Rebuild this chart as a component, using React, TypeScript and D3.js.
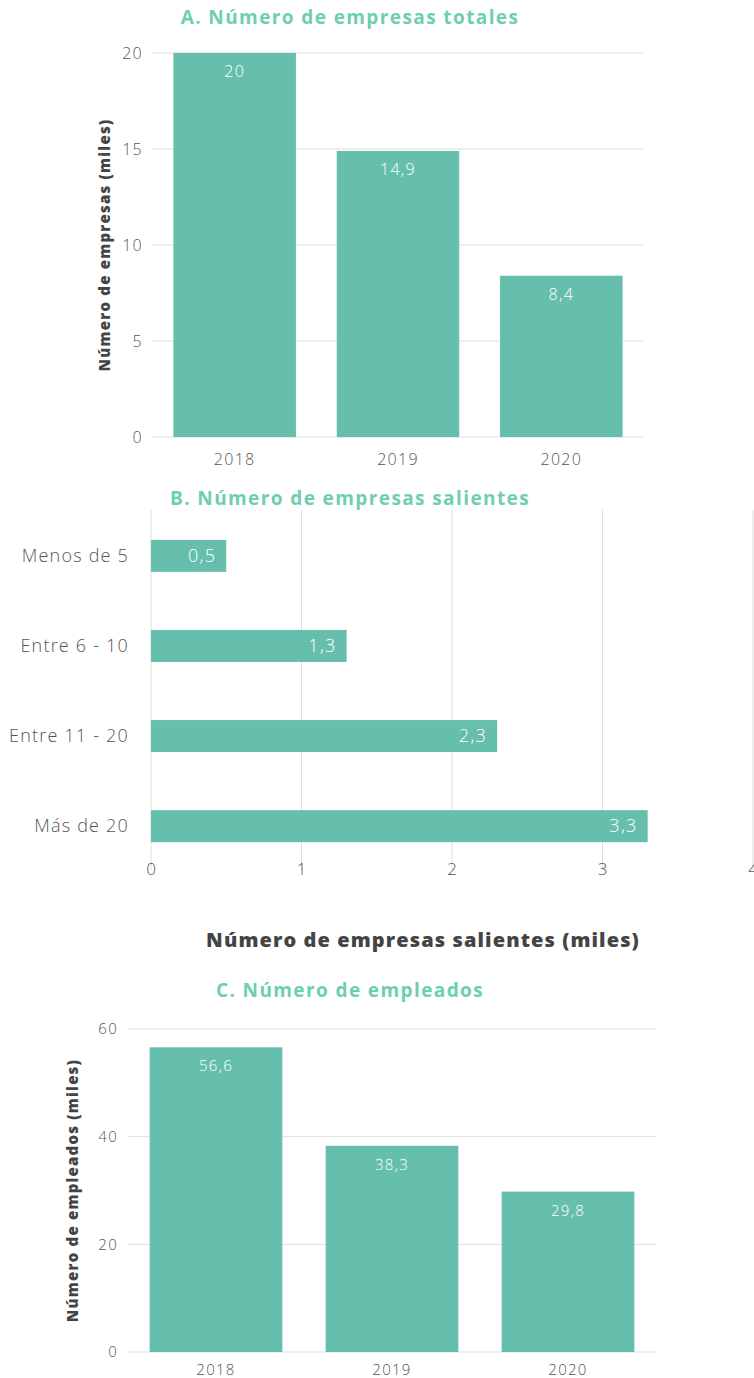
import * as d3 from "d3";
import { useRef, useEffect } from "react";

// panel A
const years = ["2018", "2019", "2020"];
const totalCompanies = [20, 14.9, 8.4];
const totalTicks = [0, 5, 10, 15, 20];

// panel B
const sizeGroups = ["Menos de 5", "Entre 6 - 10", "Entre 11 - 20", "Más de 20"];
const exitingCompanies = [0.5, 1.3, 2.3, 3.3];
const exitingTicks = [0, 1, 2, 3, 4];

// panel C
const employees = [56.6, 38.3, 29.8];
const employeeTicks = [0, 20, 40, 60];

const BAR = "#66bfac";
const TITLE = "#6dcfae";
const GRID = "#dedede";
const TEXT = "#555";
const FONT = "'Open Sans', Lato, sans-serif";
const LS = "1.3"; // wider spacing, closer to the geometric face of the original

const fmt = (v: number) => String(v).replace(".", ",");

function App() {
  const ref = useRef<SVGSVGElement>(null);

  useEffect(() => {
    const svg = d3.select(ref.current);
    svg.selectAll("*").remove();
    svg.attr("font-family", FONT);

    // vertical bar panel (A and C)
    const columnPanel = (opts: any) => {
      const g = svg.append("g");
      const x = d3
        .scaleBand()
        .domain(years)
        .range([opts.x0, opts.x1])
        .paddingInner(opts.pad)
        .paddingOuter(opts.pad / 2);
      const y = d3
        .scaleLinear()
        .domain([0, opts.max])
        .range([opts.y0, opts.y1]);

      g.selectAll(".grid")
        .data(opts.ticks)
        .join("line")
        .attr("x1", opts.x0)
        .attr("x2", opts.x1)
        .attr("y1", (d: any) => y(d))
        .attr("y2", (d: any) => y(d))
        .attr("stroke", GRID)
        .attr("stroke-width", 1);

      g.selectAll(".tick")
        .data(opts.ticks)
        .join("text")
        .attr("x", opts.x0 - 10)
        .attr("y", (d: any) => y(d))
        .attr("dy", "0.35em")
        .attr("text-anchor", "end")
        .attr("font-size", opts.tickSize)
        .attr("font-weight", 300)
        .attr("letter-spacing", LS)
        .attr("fill", TEXT)
        .text((d: any) => d);

      g.selectAll(".bar")
        .data(opts.values)
        .join("rect")
        .attr("x", (_: any, i: number) => x(years[i])!)
        .attr("width", x.bandwidth())
        .attr("y", (d: any) => y(d))
        .attr("height", (d: any) => y(0) - y(d))
        .attr("fill", BAR);

      g.selectAll(".val")
        .data(opts.values)
        .join("text")
        .attr("x", (_: any, i: number) => x(years[i])! + x.bandwidth() / 2)
        .attr("y", (d: any) => y(d) + opts.valOffset)
        .attr("text-anchor", "middle")
        .attr("font-size", opts.tickSize)
        .attr("font-weight", 300)
        .attr("letter-spacing", LS)
        .attr("fill", "white")
        .text((d: any) => fmt(d));

      g.selectAll(".year")
        .data(years)
        .join("text")
        .attr("x", (d: any) => x(d)! + x.bandwidth() / 2)
        .attr("y", opts.y0 + opts.yearOffset)
        .attr("text-anchor", "middle")
        .attr("font-size", opts.tickSize)
        .attr("font-weight", 300)
        .attr("letter-spacing", LS)
        .attr("fill", TEXT)
        .text((d: any) => d);

      g.append("text")
        .attr("x", 350)
        .attr("y", opts.titleY)
        .attr("text-anchor", "middle")
        .attr("font-size", 19)
        .attr("font-weight", "bold")
        .attr("letter-spacing", "1.4")
        .attr("fill", TITLE)
        .text(opts.title);

      g.append("text")
        .attr(
          "transform",
          `translate(${opts.labelX},${(opts.y0 + opts.y1) / 2}) rotate(-90)`
        )
        .attr("text-anchor", "middle")
        .attr("dy", "0.35em")
        .attr("font-size", 15)
        .attr("font-weight", 800)
        .attr("letter-spacing", "1.2")
        .attr("fill", "#444")
        .text(opts.label);
    };

    columnPanel({
      values: totalCompanies,
      ticks: totalTicks,
      max: 20,
      x0: 153,
      x1: 643,
      y0: 437,
      y1: 53,
      pad: 0.25,
      tickSize: 16,
      valOffset: 24,
      yearOffset: 28,
      titleY: 24,
      title: "A. Número de empresas totales",
      labelX: 105,
      label: "Número de empresas (miles)",
    });

    columnPanel({
      values: employees,
      ticks: employeeTicks,
      max: 60,
      x0: 128,
      x1: 656,
      y0: 1352,
      y1: 1029,
      pad: 0.246,
      tickSize: 15,
      valOffset: 24,
      yearOffset: 23,
      titleY: 997,
      title: "C. Número de empleados",
      labelX: 73,
      label: "Número de empleados (miles)",
    });

    // horizontal bar panel (B)
    const gb = svg.append("g");
    const xb = d3.scaleLinear().domain([0, 4]).range([151, 753]);
    const yb = d3
      .scaleBand()
      .domain(sizeGroups)
      .range([511, 871])
      .paddingInner(0.645)
      .paddingOuter(0.32);

    gb.selectAll(".grid")
      .data(exitingTicks)
      .join("line")
      .attr("x1", (d) => xb(d))
      .attr("x2", (d) => xb(d))
      .attr("y1", 510)
      .attr("y2", 870)
      .attr("stroke", GRID);

    gb.selectAll(".tick")
      .data(exitingTicks)
      .join("text")
      .attr("x", (d) => xb(d))
      .attr("y", 875)
      .attr("text-anchor", "middle")
      .attr("font-size", 17)
      .attr("font-weight", 300)
      .attr("fill", TEXT)
      .text((d) => d);

    gb.selectAll(".bar")
      .data(exitingCompanies)
      .join("rect")
      .attr("x", xb(0))
      .attr("y", (_, i) => yb(sizeGroups[i])!)
      .attr("width", (d) => xb(d) - xb(0))
      .attr("height", yb.bandwidth())
      .attr("fill", BAR);

    gb.selectAll(".val")
      .data(exitingCompanies)
      .join("text")
      .attr("x", (d) => xb(d) - 10)
      .attr("y", (_, i) => yb(sizeGroups[i])! + yb.bandwidth() / 2)
      .attr("dy", "0.35em")
      .attr("text-anchor", "end")
      .attr("font-size", 18)
      .attr("font-weight", 300)
      .attr("letter-spacing", LS)
      .attr("fill", "white")
      .text((d) => fmt(d));

    gb.selectAll(".cat")
      .data(sizeGroups)
      .join("text")
      .attr("x", 129)
      .attr("y", (d) => yb(d)! + yb.bandwidth() / 2)
      .attr("dy", "0.35em")
      .attr("text-anchor", "end")
      .attr("font-size", 18)
      .attr("font-weight", 300)
      .attr("letter-spacing", "1.2")
      .attr("fill", TEXT)
      .text((d) => d);

    gb.append("text")
      .attr("x", 350)
      .attr("y", 505)
      .attr("text-anchor", "middle")
      .attr("font-size", 19)
      .attr("font-weight", "bold")
      .attr("letter-spacing", "1.4")
      .attr("fill", TITLE)
      .text("B. Número de empresas salientes");

    gb.append("text")
      .attr("x", 423)
      .attr("y", 947)
      .attr("text-anchor", "middle")
      .attr("font-size", 20)
      .attr("font-weight", 800)
      .attr("fill", "#444")
      .attr("letter-spacing", "1.1")
      .text("Número de empresas salientes (miles)");
  }, []);

  return (
    <svg
      ref={ref}
      width={754}
      height={1378}
      style={{ position: "absolute", left: 0, top: 0, background: "white" }}
    ></svg>
  );
}

export default App;
